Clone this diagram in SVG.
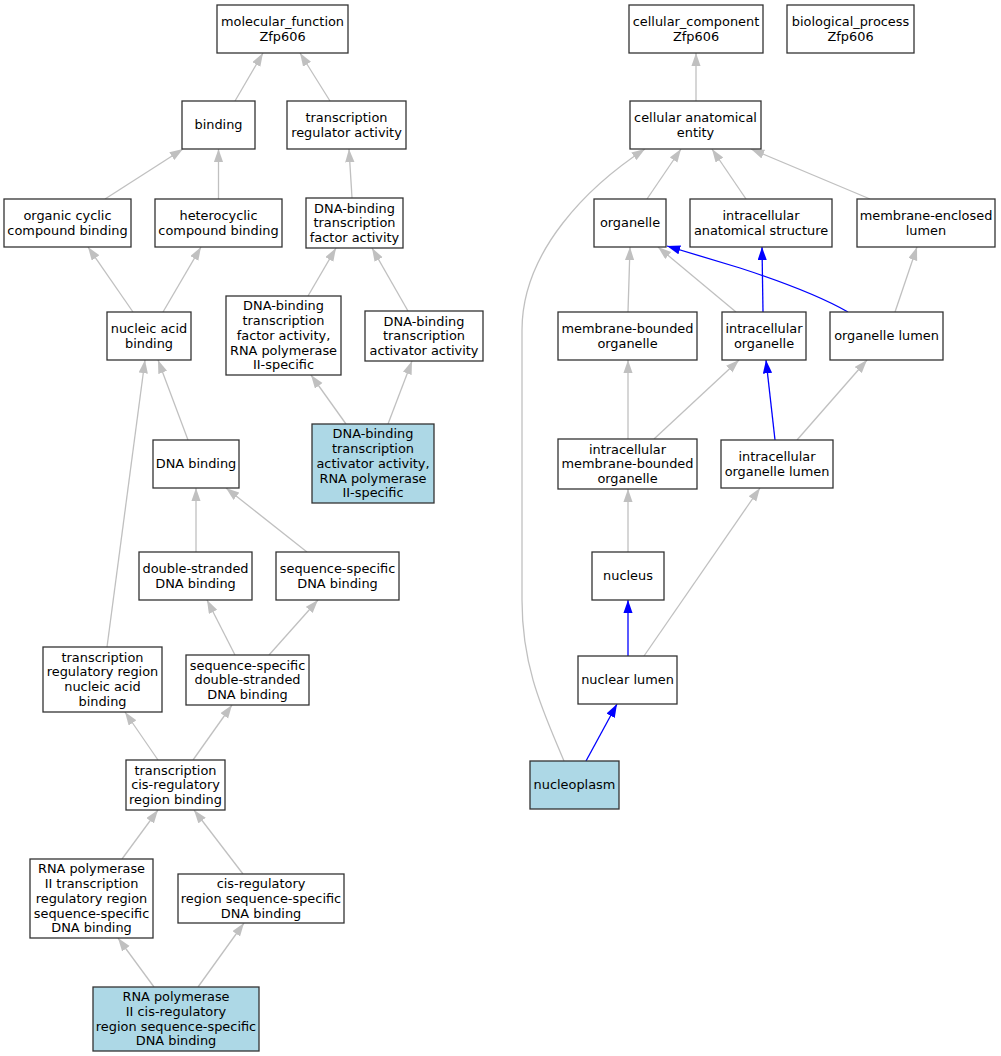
<svg xmlns="http://www.w3.org/2000/svg" width="1001" height="1056" viewBox="0 0 1001 1056">
<style>
.n rect{fill:#fff;stroke:#333;stroke-width:1.3}
.n.hl rect{fill:#add8e6}
.n text{font-family:"DejaVu Sans","Liberation Sans",sans-serif;font-size:12.9px;fill:#000;text-anchor:middle}
.e path{fill:none;stroke-width:1.3}
.g{stroke:#c0c0c0;marker-end:url(#ag)}
.b{stroke:#0000ff;marker-end:url(#ab)}
</style>
<defs>
<marker id="ag" markerUnits="userSpaceOnUse" markerWidth="14" markerHeight="10" refX="13.3" refY="4.65" orient="auto" viewBox="0 0 14 10"><path d="M0,0L13.3,4.65L0,9.3z" fill="#c0c0c0"/></marker>
<marker id="ab" markerUnits="userSpaceOnUse" markerWidth="14" markerHeight="10" refX="13.3" refY="4.65" orient="auto" viewBox="0 0 14 10"><path d="M0,0L13.3,4.65L0,9.3z" fill="#0000ff"/></marker>
</defs>
<rect width="1001" height="1056" fill="#fff"/>
<g id="edges" class="e">
<path class="g" d="M235,101L263,53"/>
<path class="g" d="M330,101L300,53"/>
<path class="g" d="M105,199L183,149"/>
<path class="g" d="M218.5,199L218.5,149"/>
<path class="g" d="M352,198L349,149"/>
<path class="g" d="M133,312L88,247"/>
<path class="g" d="M163,312L201,247"/>
<path class="g" d="M308,296L336,248"/>
<path class="g" d="M408,311L372,248"/>
<path class="g" d="M346,424L311,375"/>
<path class="g" d="M388,424L412,361"/>
<path class="g" d="M188,440L158,360"/>
<path class="g" d="M107,647L145,360"/>
<path class="g" d="M196,552L196,488"/>
<path class="g" d="M307,552L226,488"/>
<path class="g" d="M235,655L207,600"/>
<path class="g" d="M269,655L318,600"/>
<path class="g" d="M158,760L125,712"/>
<path class="g" d="M193,760L232,705"/>
<path class="g" d="M122,859L158,810"/>
<path class="g" d="M243,874L194,810"/>
<path class="g" d="M154,987L118,938"/>
<path class="g" d="M198,987L244,923"/>
<path class="g" d="M696,101L696,53"/>
<path class="g" d="M647,199L681,149"/>
<path class="g" d="M746,199L712,149"/>
<path class="g" d="M870,199L751,149"/>
<path class="g" d="M564,761C545,715 522,670 522,600L522,330C522,250 590,185 645,149"/>
<path class="g" d="M628,312L630,247"/>
<path class="g" d="M736,312L658,247"/>
<path class="b" d="M848,312C820,296 780,281 740,268L667,246"/>
<path class="b" d="M763,312L762,247"/>
<path class="g" d="M895,312L917,247"/>
<path class="g" d="M628,439L628,360"/>
<path class="g" d="M654,439L739,360"/>
<path class="b" d="M775,440L766,360"/>
<path class="g" d="M797,440L867,360"/>
<path class="g" d="M628,552L628,489"/>
<path class="g" d="M644,656L760,488"/>
<path class="b" d="M628,656L628,600"/>
<path class="b" d="M586,761L617,704"/>
</g>
<g id="mf" class="n"><rect x="217" y="5" width="131" height="48"/><text x="282.5" y="25.9">molecular_function</text><text x="282.5" y="40.6">Zfp606</text></g>
<g id="binding" class="n"><rect x="182" y="101" width="73" height="48"/><text x="218.5" y="129.3">binding</text></g>
<g id="tra" class="n"><rect x="287" y="101" width="119" height="48"/><text x="346.5" y="121.9">transcription</text><text x="346.5" y="136.6">regulator activity</text></g>
<g id="ocb" class="n"><rect x="4" y="199" width="127" height="48"/><text x="67.5" y="219.9">organic cyclic</text><text x="67.5" y="234.6">compound binding</text></g>
<g id="hcb" class="n"><rect x="155" y="199" width="127" height="48"/><text x="218.5" y="219.9">heterocyclic</text><text x="218.5" y="234.6">compound binding</text></g>
<g id="dbtfa" class="n"><rect x="306" y="198" width="97" height="50"/><text x="354.5" y="212.6">DNA-binding</text><text x="354.5" y="227.3">transcription</text><text x="354.5" y="242">factor activity</text></g>
<g id="nab" class="n"><rect x="107" y="312" width="84" height="48"/><text x="149" y="332.9">nucleic acid</text><text x="149" y="347.6">binding</text></g>
<g id="dbtfa2" class="n"><rect x="226" y="296" width="115" height="79"/><text x="283.5" y="310.4">DNA-binding</text><text x="283.5" y="325.1">transcription</text><text x="283.5" y="339.8">factor activity,</text><text x="283.5" y="354.5">RNA polymerase</text><text x="283.5" y="369.2">II-specific</text></g>
<g id="dbtaa" class="n"><rect x="365" y="311" width="118" height="50"/><text x="424" y="325.6">DNA-binding</text><text x="424" y="340.3">transcription</text><text x="424" y="355">activator activity</text></g>
<g id="dbtaa2" class="n hl"><rect x="312" y="424" width="122" height="79"/><text x="373" y="438.4">DNA-binding</text><text x="373" y="453.1">transcription</text><text x="373" y="467.8">activator activity,</text><text x="373" y="482.5">RNA polymerase</text><text x="373" y="497.2">II-specific</text></g>
<g id="dnab" class="n"><rect x="153" y="440" width="86" height="48"/><text x="196" y="468.3">DNA binding</text></g>
<g id="dsdb" class="n"><rect x="139" y="552" width="113" height="48"/><text x="195.5" y="572.9">double-stranded</text><text x="195.5" y="587.6">DNA binding</text></g>
<g id="ssdb" class="n"><rect x="276" y="552" width="123" height="48"/><text x="337.5" y="572.9">sequence-specific</text><text x="337.5" y="587.6">DNA binding</text></g>
<g id="trrnab" class="n"><rect x="43" y="647" width="119" height="65"/><text x="102.5" y="661.7">transcription</text><text x="102.5" y="676.4">regulatory region</text><text x="102.5" y="691.1">nucleic acid</text><text x="102.5" y="705.8">binding</text></g>
<g id="ssdsdb" class="n"><rect x="186" y="655" width="123" height="50"/><text x="247.5" y="669.6">sequence-specific</text><text x="247.5" y="684.3">double-stranded</text><text x="247.5" y="699">DNA binding</text></g>
<g id="tcrb" class="n"><rect x="126" y="760" width="99" height="50"/><text x="175.5" y="774.6">transcription</text><text x="175.5" y="789.3">cis-regulatory</text><text x="175.5" y="804">region binding</text></g>
<g id="rp2trr" class="n"><rect x="30" y="859" width="123" height="79"/><text x="91.5" y="873.4">RNA polymerase</text><text x="91.5" y="888.1">II transcription</text><text x="91.5" y="902.8">regulatory region</text><text x="91.5" y="917.5">sequence-specific</text><text x="91.5" y="932.2">DNA binding</text></g>
<g id="crrssdb" class="n"><rect x="178" y="874" width="166" height="49"/><text x="261" y="888.1">cis-regulatory</text><text x="261" y="902.8">region sequence-specific</text><text x="261" y="917.5">DNA binding</text></g>
<g id="rp2crr" class="n hl"><rect x="93" y="987" width="166" height="64"/><text x="176" y="1001.3">RNA polymerase</text><text x="176" y="1016">II cis-regulatory</text><text x="176" y="1030.7">region sequence-specific</text><text x="176" y="1045.4">DNA binding</text></g>
<g id="cc" class="n"><rect x="629" y="5" width="134" height="48"/><text x="696" y="25.9">cellular_component</text><text x="696" y="40.6">Zfp606</text></g>
<g id="bp" class="n"><rect x="787" y="5" width="127" height="48"/><text x="850.5" y="25.9">biological_process</text><text x="850.5" y="40.6">Zfp606</text></g>
<g id="cae" class="n"><rect x="630" y="101" width="131" height="48"/><text x="695.5" y="121.9">cellular anatomical</text><text x="695.5" y="136.6">entity</text></g>
<g id="org" class="n"><rect x="594" y="199" width="72" height="48"/><text x="630" y="227.3">organelle</text></g>
<g id="ias" class="n"><rect x="690" y="199" width="142" height="48"/><text x="761" y="219.9">intracellular</text><text x="761" y="234.6">anatomical structure</text></g>
<g id="mel" class="n"><rect x="857" y="199" width="138" height="48"/><text x="926" y="219.9">membrane-enclosed</text><text x="926" y="234.6">lumen</text></g>
<g id="mbo" class="n"><rect x="558" y="312" width="139" height="48"/><text x="627.5" y="332.9">membrane-bounded</text><text x="627.5" y="347.6">organelle</text></g>
<g id="io" class="n"><rect x="722" y="312" width="84" height="48"/><text x="764" y="332.9">intracellular</text><text x="764" y="347.6">organelle</text></g>
<g id="ol" class="n"><rect x="830" y="312" width="113" height="48"/><text x="886.5" y="340.3">organelle lumen</text></g>
<g id="imbo" class="n"><rect x="558" y="439" width="139" height="50"/><text x="627.5" y="453.6">intracellular</text><text x="627.5" y="468.3">membrane-bounded</text><text x="627.5" y="483">organelle</text></g>
<g id="iol" class="n"><rect x="721" y="440" width="112" height="48"/><text x="777" y="460.9">intracellular</text><text x="777" y="475.6">organelle lumen</text></g>
<g id="nucleus" class="n"><rect x="592" y="552" width="72" height="48"/><text x="628" y="580.3">nucleus</text></g>
<g id="nl" class="n"><rect x="578" y="656" width="99" height="48"/><text x="627.5" y="684.3">nuclear lumen</text></g>
<g id="np" class="n hl"><rect x="530" y="761" width="89" height="48"/><text x="574.5" y="789.3">nucleoplasm</text></g>
</svg>
